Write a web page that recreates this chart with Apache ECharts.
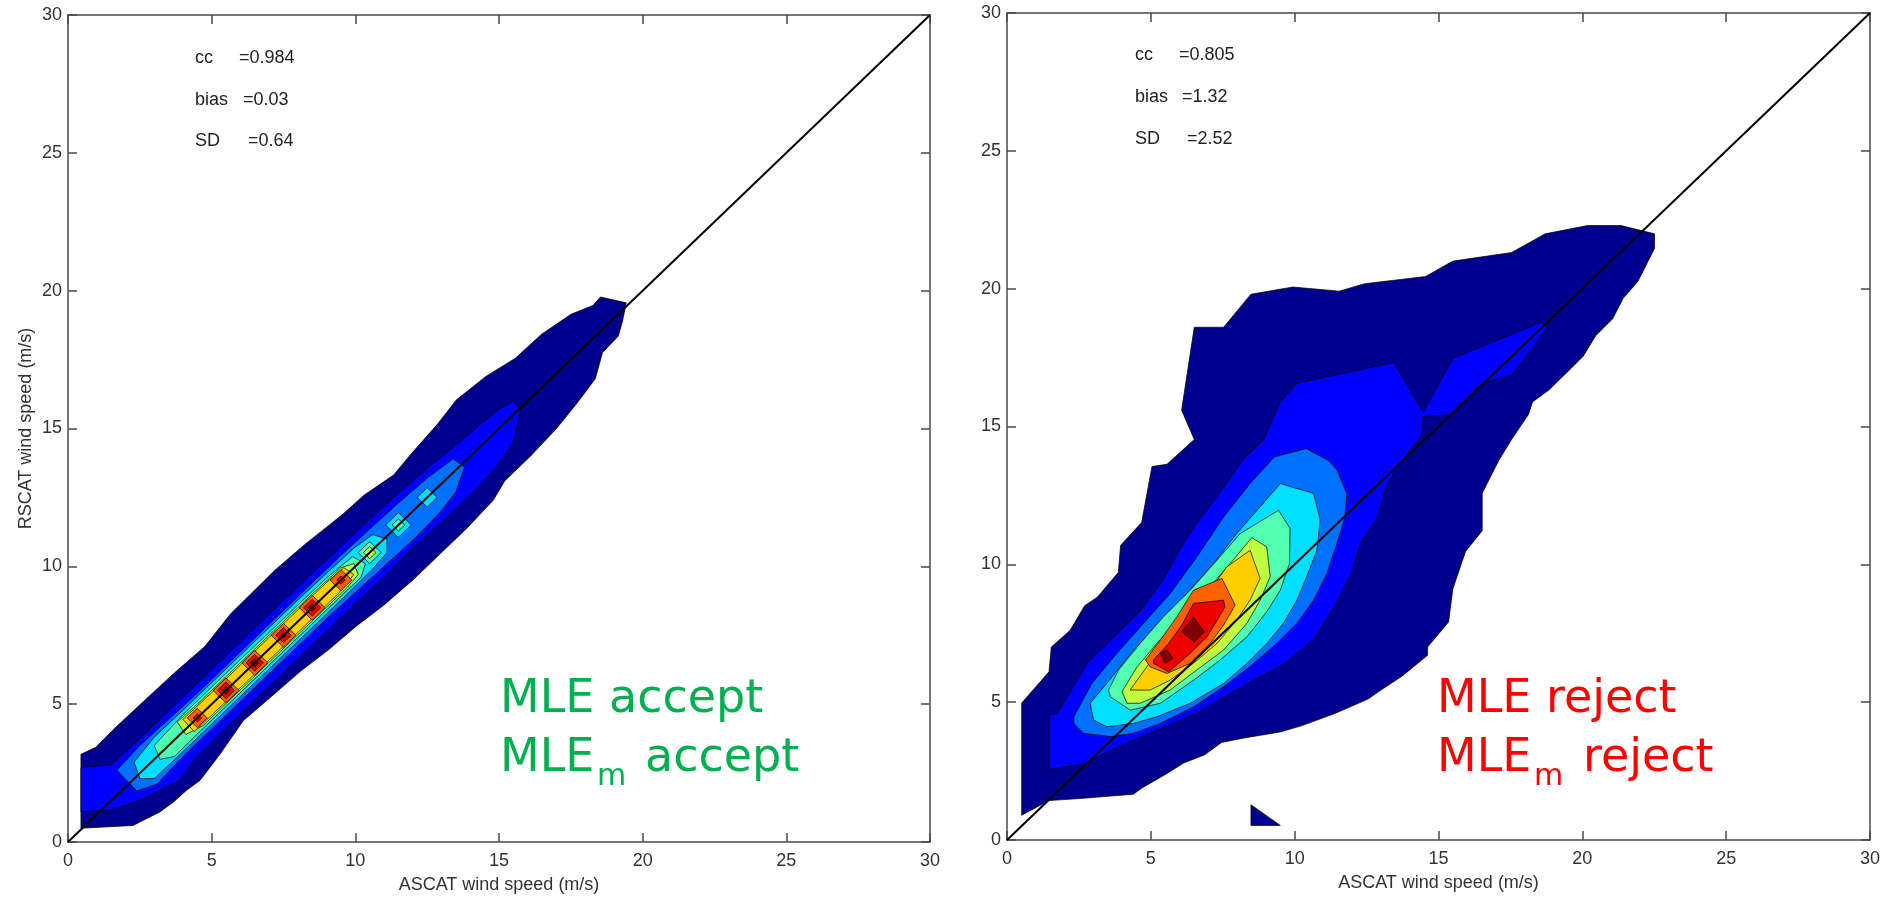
<!DOCTYPE html>
<html>
<head>
<meta charset="utf-8">
<script src="https://cdn.jsdelivr.net/npm/echarts@6/dist/echarts.min.js"></script>
<style>
  html, body { margin: 0; padding: 0; background: #ffffff; }
  #chart { width: 1893px; height: 900px; }
</style>
</head>
<body>
<div id="chart"></div>
<script>
// ---------------- axes ----------------
const axisMin = 0;
const axisMax = 30;
const axisStep = 5;
const xAxisTitle = 'ASCAT wind speed (m/s)';
const yAxisTitle = 'RSCAT wind speed (m/s)';

// filled-contour level colours (jet), lowest to highest density
const levelColors = ['#00008F', '#0000FF', '#0070FF', '#00DFFF', '#50FFAF',
                     '#BFFF40', '#FFCF00', '#FF6000', '#EF0000', '#800000'];

// ---------------- statistics ----------------
const statNames = ['cc', 'bias', 'SD'];
const acceptStats = ['=0.984', '=0.03', '=0.64'];
const rejectStats = ['=0.805', '=1.32', '=2.52'];

// ---------------- MLE accept: contour polygons (wind speed, m/s) ----------------
const acceptL1 = [[[0.45,0.5],[0.45,3.18],[0.97,3.44],[1.67,4.17],[2.7,5.17],[3.73,6.16],[4.76,7.09],[5.66,8.28],[5.98,8.61],[7.21,9.87],[8.24,10.79],[9.52,11.85],[10.3,12.58],[11.33,13.31],[11.97,14.11],[12.87,15.17],[13.51,16.03],[14.54,16.89],[15.57,17.55],[16.47,18.41],[17.5,19.14],[18.28,19.47],[18.53,19.77],[19.43,19.56],
  [19.3,18.9],[19.15,18.35],[18.6,17.75],[18.35,16.8],[17.7,15.9],[17.0,15.0],[16.1,14.0],[15.2,13.1],[14.8,12.4],[13.9,11.4],[12.9,10.4],[12.0,9.5],[11.0,8.6],[10.0,7.8],[9.1,7.0],[8.1,6.2],[7.1,5.3],[6.1,4.4],[5.3,3.2],[4.6,2.24],[4.13,1.88],[3.67,1.45],[3.2,1.09],[2.62,0.79],[2.27,0.6]]];
const acceptL2 = [[[0.45,1.1],[0.45,2.7],[1.5,2.8],[2.5,3.75],[3.5,4.75],[4.5,5.75],[5.5,6.75],[6.5,7.75],[7.5,8.75],[8.5,9.75],[9.5,10.7],[10.5,11.7],[11.5,12.65],[12.5,13.55],[13.5,14.4],[14.3,15.1],[15.0,15.7],[15.5,16.0],[15.75,15.65],
  [15.5,14.5],[14.9,13.6],[14.2,12.8],[13.3,11.9],[12.3,10.95],[11.3,9.95],[10.3,8.95],[9.3,7.95],[8.3,6.95],[7.3,5.95],[6.3,4.95],[5.3,3.95],[4.4,3.0],[3.9,2.24],[3.2,1.88],[2.5,1.51],[1.46,1.15]]];
const acceptL3 = [[[1.7,2.6],[2.5,3.5],[3.5,4.45],[4.5,5.4],[5.5,6.4],[6.5,7.4],[7.5,8.4],[8.5,9.4],[9.5,10.4],[10.5,11.35],[11.5,12.3],[12.5,13.2],[13.4,13.9],[13.8,13.6],
  [13.5,12.7],[12.9,11.9],[12.0,10.95],[11.0,10.0],[10.0,9.05],[9.0,8.1],[8.0,7.1],[7.0,6.1],[6.0,5.1],[5.0,4.1],[4.0,3.1],[3.1,2.1],[2.4,1.85]]];
const acceptL4 = [[[2.3,2.9],[3.0,3.8],[4.0,4.78],[5.0,5.78],[6.0,6.78],[7.0,7.78],[8.0,8.78],[9.0,9.75],[10.0,10.7],[10.6,11.15],[11.1,11.0],
  [11.1,10.5],[10.6,9.9],[9.7,8.98],[8.7,7.98],[7.7,6.98],[6.7,5.98],[5.7,4.98],[4.7,3.98],[3.7,2.98],[3.0,2.3],[2.5,2.3]]];
const acceptL5 = [[[3.0,3.5],[4.0,4.62],[5.0,5.62],[6.0,6.62],[7.0,7.6],[8.0,8.6],[9.0,9.58],[9.9,10.35],[10.35,10.1],
  [10.2,9.6],[9.6,9.02],[8.6,8.02],[7.6,7.02],[6.6,6.02],[5.6,5.02],[4.6,4.02],[3.7,3.1],[3.2,3.0]]];
const acceptL6 = [[[3.8,4.35],[4.5,5.0],[5.5,6.0],[6.5,7.0],[7.5,8.0],[8.5,9.0],[9.5,9.95],[9.95,10.1],[10.1,9.7],
  [9.7,9.22],[8.7,8.22],[7.7,7.22],[6.7,6.22],[5.7,5.22],[4.7,4.22],[4.1,3.9]]];
const acceptL7 = [[[4.0,4.45],[5.0,5.42],[6.0,6.42],[7.0,7.42],[8.0,8.42],[9.0,9.42],[9.6,9.95],[9.95,9.7],
  [9.4,9.0],[8.4,8.0],[7.4,7.0],[6.4,6.0],[5.4,5.0],[4.4,4.0]]];
// isolated peaks as [centre x, centre y, half-diagonal]
const acceptIslandsL4 = [[11.5,11.5,0.45],[12.5,12.5,0.35]];
const acceptIslandsL5 = [[10.5,10.5,0.4],[11.5,11.5,0.22]];
const acceptIslandsL6 = [[10.5,10.5,0.22]];
const acceptPeaksL8 = [[4.5,4.5,0.35],[5.5,5.5,0.45],[6.5,6.5,0.45],[7.5,7.5,0.43],[8.5,8.5,0.45],[9.5,9.5,0.38]];
const acceptPeaksL9 = [[4.5,4.5,0.15],[5.5,5.5,0.3],[6.5,6.5,0.3],[7.5,7.5,0.27],[8.5,8.5,0.3],[9.5,9.5,0.15]];
const acceptPeaksL10 = [[5.5,5.5,0.13],[6.5,6.5,0.15],[7.5,7.5,0.1],[8.5,8.5,0.13]];

// ---------------- MLE reject: contour polygons (wind speed, m/s) ----------------
const rejectL1 = [
  [[0.51,0.9],[0.51,4.97],[1.46,6.1],[1.54,7.0],[2.19,7.6],[2.7,8.5],[3.14,8.81],[3.87,9.71],[3.95,10.69],[4.68,11.52],[5.04,13.55],[5.56,13.63],[6.51,14.53],[6.07,15.59],[6.51,18.6],[7.53,18.6],[8.48,19.8],[9.94,20.06],[11.55,19.91],[12.43,20.18],[14.55,20.44],[15.5,21.0],[17.54,21.31],[18.71,21.99],[20.18,22.29],[21.35,22.29],[22.51,21.99],
   [22.51,21.46],[22.22,20.86],[21.93,20.26],[21.42,19.65],[21.05,18.9],[20.47,18.3],[20.03,17.55],[19.59,17.09],[19.15,16.64],[18.86,16.34],[18.27,15.89],[18.13,15.44],[17.54,14.53],[17.1,13.78],[16.52,12.58],[16.52,11.22],[15.94,10.47],[15.5,9.11],[15.35,7.91],[14.62,7.0],[14.62,6.7],[13.74,5.95],[12.87,5.35],[12.57,5.12],[11.4,4.59],[10.23,4.14],[9.5,3.92],[8.19,3.69],[7.46,3.54],[6.87,3.09],[6.14,2.79],[5.56,2.41],[4.68,1.88],[4.39,1.66],[2.63,1.51],[1.46,1.43]],
  [[8.48,1.28],[8.48,0.53],[9.5,0.53]]
];
const rejectL2 = [[[1.46,2.56],[1.46,4.52],[1.75,4.59],[2.19,5.35],[2.78,6.4],[3.65,7.3],[4.68,8.36],[5.41,9.41],[6.14,10.77],[6.73,11.67],[7.6,12.88],[8.19,13.78],[8.92,14.53],[9.5,15.89],[10.09,16.57],[13.45,17.32],[14.47,15.51],[15.5,17.47],[18.57,18.78],[18.79,18.6],[18.27,17.85],[17.54,16.87],[16.52,16.57],[15.5,15.44],[14.47,15.36],
  [14.4,14.68],[13.45,13.33],[13.16,12.73],[12.87,11.67],[12.28,10.77],[11.99,9.71],[11.4,8.51],[10.67,7.3],[9.65,6.4],[8.77,5.9],[7.89,5.4],[6.58,4.6],[5.7,4.2],[4.68,3.75],[3.51,3.2],[2.63,2.75]]];
const rejectL3 = [[[2.32,4.23],[2.32,4.47],[2.95,5.68],[3.82,6.77],[4.75,7.86],[5.67,8.94],[6.6,10.27],[7.53,11.72],[8.45,12.93],[9.3,13.9],[10.4,14.2],[11.2,13.75],[11.47,13.42],[11.81,12.57],[11.75,11.72],[11.47,10.76],[11.12,9.67],[10.66,8.7],[10.08,7.86],[9.38,7.13],[8.45,6.29],[7.53,5.56],[6.49,4.83],[5.33,4.23],[4.4,3.87],[3.59,3.75],[2.66,3.87]]];
const rejectL4 = [[[3.01,4.35],[2.89,4.96],[3.47,5.68],[4.4,6.89],[5.33,7.86],[6.25,8.94],[7.18,10.03],[7.99,11.12],[9.5,12.93],[10.66,12.57],[10.89,11.6],[10.77,10.51],[10.42,9.55],[10.08,8.7],[9.61,7.86],[9.03,7.13],[8.34,6.41],[7.53,5.68],[6.37,4.96],[5.21,4.47],[4.4,4.23],[3.47,4.11]]];
const rejectL5 = [[[3.53,5.44],[3.88,6.17],[4.63,7.13],[5.44,8.1],[6.37,9.06],[7.3,10.15],[8.11,11.12],[9.44,11.96],[9.84,11.3],[9.82,10.03],[9.5,9.06],[9.03,8.28],[8.34,7.37],[7.41,6.53],[6.49,5.8],[5.33,4.96],[4.29,4.71],[3.59,5.2]]];
const rejectL6 = [[[4.0,5.38],[4.52,6.28],[5.21,7.13],[6.13,8.22],[6.95,9.06],[7.76,10.03],[8.51,10.97],[9.03,10.63],[9.15,9.55],[8.8,8.7],[8.34,7.86],[7.53,6.89],[6.6,6.17],[5.67,5.44],[4.63,4.96],[4.17,4.96]]];
const rejectL7 = [[[4.28,5.44],[4.86,6.28],[5.56,7.25],[6.37,8.22],[7.06,9.06],[7.64,9.91],[8.45,10.51],[8.8,9.49],[8.45,8.7],[7.99,7.98],[7.3,7.13],[6.48,6.41],[5.67,5.8],[4.98,5.44]]];
const rejectL8 = [[[4.81,6.53],[5.33,7.25],[5.91,8.1],[6.48,9.06],[7.47,9.49],[7.93,8.52],[7.53,7.8],[7.06,7.13],[6.37,6.41],[5.56,6.04],[4.98,6.28]]];
const rejectL9 = [[[5.09,6.53],[5.62,7.13],[6.08,7.8],[6.48,8.58],[7.53,8.7],[7.58,8.46],[7.24,7.86],[6.95,7.37],[6.37,6.77],[5.62,6.1],[5.09,6.41]]];
const rejectL10 = [
  [[6.07,7.55],[6.48,8.09],[6.86,7.55],[6.51,7.19]],
  [[5.33,6.77],[5.56,6.89],[5.77,6.59],[5.5,6.41]]
];

// ---------------- build polygon lists ----------------
function diamonds(list) {
  return list.map(([cx, cy, r]) => [[cx - r, cy], [cx, cy + r], [cx + r, cy], [cx, cy - r]]);
}
function collect(levels) {
  const out = [];
  levels.forEach(([level, polys]) => polys.forEach(pts => out.push({ level, pts })));
  return out;
}
const acceptPolys = collect([
  [0, acceptL1], [1, acceptL2], [2, acceptL3],
  [3, acceptL4], [3, diamonds(acceptIslandsL4)],
  [4, acceptL5], [4, diamonds(acceptIslandsL5)],
  [5, acceptL6], [5, diamonds(acceptIslandsL6)],
  [6, acceptL7],
  [7, diamonds(acceptPeaksL8)], [8, diamonds(acceptPeaksL9)], [9, diamonds(acceptPeaksL10)]
]);
const rejectPolys = collect([
  [0, rejectL1], [1, rejectL2], [2, rejectL3], [3, rejectL4], [4, rejectL5],
  [5, rejectL6], [6, rejectL7], [7, rejectL8], [8, rejectL9], [9, rejectL10]
]);

function contourSeries(polys, axisIndex) {
  return {
    type: 'custom',
    xAxisIndex: axisIndex * 2,
    yAxisIndex: axisIndex * 2,
    silent: true,
    z: 2,
    encode: { x: 0, y: 1 },
    data: polys.map(p => [p.pts[0][0], p.pts[0][1]]),
    renderItem: function (params, api) {
      const item = polys[params.dataIndex];
      return {
        type: 'polygon',
        shape: { points: item.pts.map(p => api.coord(p)) },
        style: { fill: levelColors[item.level], stroke: '#000000', lineWidth: 0.7 }
      };
    }
  };
}
function diagonalSeries(axisIndex) {
  return {
    type: 'line',
    xAxisIndex: axisIndex * 2,
    yAxisIndex: axisIndex * 2,
    data: [[axisMin, axisMin], [axisMax, axisMax]],
    symbol: 'none',
    silent: true,
    z: 5,
    lineStyle: { color: '#000000', width: 2 }
  };
}

// ---------------- axes ----------------
const tickFont = { color: '#333333', fontSize: 18, fontFamily: 'Liberation Sans, Arial, sans-serif' };
const lineStyle = { color: '#4a4a4a', width: 1.5 };
function valueAxis(gridIndex, position, withLabels, name, nameGap) {
  return {
    type: 'value', gridIndex, position, min: axisMin, max: axisMax, interval: axisStep,
    axisLine: { show: true, onZero: false, lineStyle },
    axisTick: { show: true, inside: true, length: 9, lineStyle },
    axisLabel: Object.assign({ show: withLabels, margin: position === 'left' ? 6 : 10 }, tickFont),
    splitLine: { show: false },
    name: name || '', nameLocation: 'middle', nameGap: nameGap || 0,
    nameTextStyle: tickFont
  };
}

// ---------------- annotations ----------------
const statFont = '18px "Liberation Sans", Arial, sans-serif';
const verdictFont = '46px "DejaVu Sans", sans-serif';
const subFont = '30px "DejaVu Sans", sans-serif';
function statTexts(x0, xVals, ys, values) {
  const out = [];
  statNames.forEach((n, i) => {
    out.push({ type: 'text', x: x0, y: ys[i], style: { text: n, font: statFont, fill: '#222', verticalAlign: 'middle' } });
    out.push({ type: 'text', x: xVals[i], y: ys[i], style: { text: values[i], font: statFont, fill: '#222', verticalAlign: 'middle' } });
  });
  return out;
}
function verdictTexts(x0, word, color, xSub, xWord) {
  return [
    { type: 'text', x: x0, y: 700, style: { text: 'MLE ' + word, font: verdictFont, fill: color, verticalAlign: 'middle' } },
    { type: 'text', x: x0, y: 759, style: { text: 'MLE', font: verdictFont, fill: color, verticalAlign: 'middle' } },
    { type: 'text', x: xSub, y: 777, style: { text: 'm', font: subFont, fill: color, verticalAlign: 'middle' } },
    { type: 'text', x: xWord, y: 759, style: { text: word, font: verdictFont, fill: color, verticalAlign: 'middle' } }
  ];
}

const chart = echarts.init(document.getElementById('chart'), null, { renderer: 'canvas' });
chart.setOption({
  animation: false,
  backgroundColor: '#ffffff',
  grid: [
    { left: 68, top: 15, width: 862, height: 827 },
    { left: 1007, top: 13, width: 863, height: 827 }
  ],
  xAxis: [
    valueAxis(0, 'bottom', true, xAxisTitle, 34),
    valueAxis(0, 'top', false),
    valueAxis(1, 'bottom', true, xAxisTitle, 34),
    valueAxis(1, 'top', false)
  ],
  yAxis: [
    valueAxis(0, 'left', true, yAxisTitle, 33),
    valueAxis(0, 'right', false),
    valueAxis(1, 'left', true),
    valueAxis(1, 'right', false)
  ],
  series: [
    contourSeries(acceptPolys, 0), diagonalSeries(0),
    contourSeries(rejectPolys, 1), diagonalSeries(1)
  ],
  graphic: [].concat(
    statTexts(195, [239, 243, 248], [58, 100, 141], acceptStats),
    statTexts(1135, [1179, 1182, 1187], [55, 97, 139], rejectStats),
    verdictTexts(500, 'accept', '#00B050', 597, 645),
    verdictTexts(1437, 'reject', '#FF0000', 1534, 1583)
  )
});
</script>
</body>
</html>
